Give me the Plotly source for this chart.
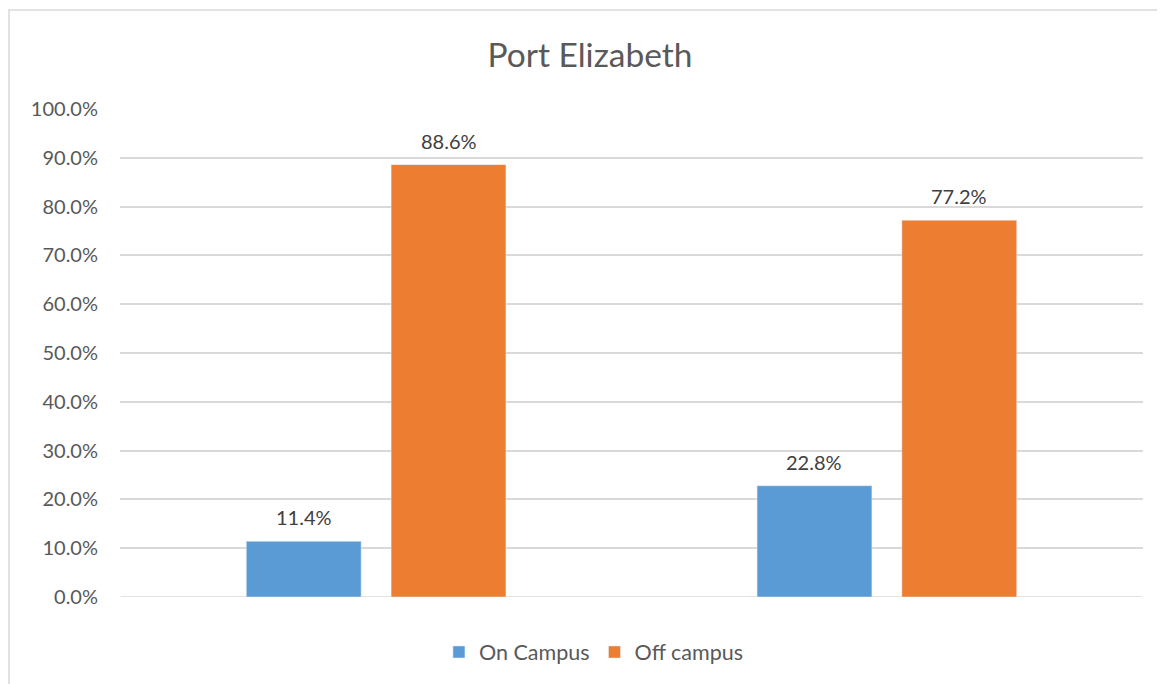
import plotly.graph_objects as go

categories = ["A", "B"]
on_campus = [11.4, 22.8]
off_campus = [88.6, 77.2]
tick_vals = [0, 10, 20, 30, 40, 50, 60, 70, 80, 90, 100]
tick_text = [f"{v:.1f}%" for v in tick_vals]

FONT = "Lato, Carlito, Calibri, sans-serif"
W, H = 1157, 676
L, R, T, B = 112, 22, 101, 87
PW, PH = W - L - R, H - T - B
BARGAP = 0.433
BARGROUPGAP = 0.207

fig = go.Figure()
fig.add_bar(x=categories, y=on_campus, name="On Campus", marker_color="#5B9BD5")
fig.add_bar(x=categories, y=off_campus, name="Off campus", marker_color="#ED7D31")

# data labels above bars
slot = (1 - BARGAP) / 2
for series, sign in ((on_campus, -1), (off_campus, 1)):
    for i, v in enumerate(series):
        fig.add_annotation(x=i + sign * slot / 2, y=v, xref="x", yref="y",
                           text=f"{v:.1f}%", showarrow=False, yanchor="bottom",
                           yshift=10, font=dict(size=20, color="#404040", family=FONT))

fig.update_layout(
    width=W, height=H,
    margin=dict(l=L, r=R, t=T, b=B),
    paper_bgcolor="white", plot_bgcolor="white",
    barmode="group", bargap=BARGAP, bargroupgap=BARGROUPGAP,
    title=dict(text="Port Elizabeth", x=(590 - 8) / W, xanchor="center", y=1 - 47 / H,
               yanchor="middle", font=dict(size=33.5, color="#595959", family=FONT)),
    font=dict(family=FONT, color="#595959"),
    legend=dict(orientation="h", x=536 / W, xanchor="center", y=1 - 644 / H,
                yref="container", yanchor="middle",
                font=dict(size=21.5, color="#595959", family=FONT),
                itemwidth=30, traceorder="normal"),
    xaxis=dict(showticklabels=False, showgrid=False, zeroline=False, showline=False),
    yaxis=dict(range=[0, 100], tickvals=tick_vals, ticktext=tick_text, showgrid=True,
               gridcolor="#D9D9D9", gridwidth=1.5, zeroline=False, showline=False,
               tickfont=dict(size=20, color="#595959", family=FONT), ticks="", ticklen=0,
               ticklabelstandoff=21),
    showlegend=True,
)
fig.add_shape(type="line", xref="x", yref="y", x0=-0.5, x1=1.5, y0=0, y1=0,
              line=dict(color="#D9D9D9", width=1.5), layer="below")
fig.add_shape(type="rect", xref="paper", yref="paper",
              x0=(1 - L) / PW, x1=(W + 10 - L) / PW,
              y0=-(H + 10 - (T + PH)) / PH, y1=(T + PH - 2) / PH,
              line=dict(color="#D9D9D9", width=1.5), fillcolor="rgba(0,0,0,0)")

fig.write_html("out.html")
